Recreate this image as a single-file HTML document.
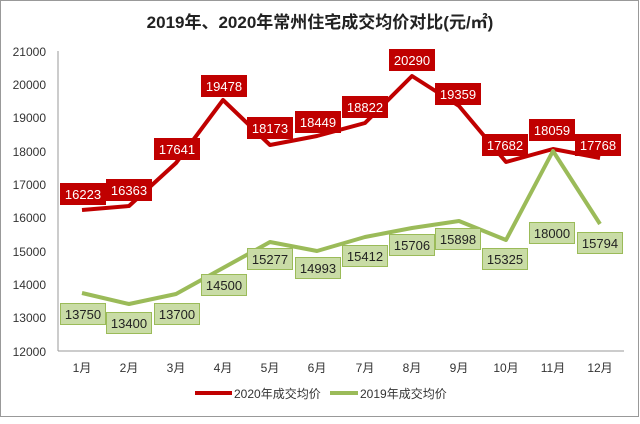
<!DOCTYPE html>
<html><head><meta charset="utf-8"><style>
body{margin:0;background:#fff;}
svg text{font-family:"Liberation Sans","Noto Sans CJK SC",sans-serif;}
</style></head><body>
<svg width="640" height="419" xmlns="http://www.w3.org/2000/svg">
<rect x="0.5" y="0.5" width="638" height="416" fill="#fff" stroke="#999"/>
<text x="320" y="28" text-anchor="middle" font-size="17" font-weight="bold" fill="#222">2019年、2020年常州住宅成交均价对比(元/㎡)</text>
<g font-size="12" fill="#333" text-anchor="end">
<text x="46" y="56">21000</text><text x="46" y="89">20000</text><text x="46" y="122">19000</text><text x="46" y="156">18000</text><text x="46" y="189">17000</text><text x="46" y="222">16000</text><text x="46" y="256">15000</text><text x="46" y="289">14000</text><text x="46" y="322">13000</text><text x="46" y="356">12000</text>
</g>
<line x1="58" y1="51" x2="58" y2="351" stroke="#999"/>
<line x1="58" y1="351" x2="624" y2="351" stroke="#999"/>
<g font-size="12" fill="#333" text-anchor="middle">
<text x="82" y="372">1月</text><text x="129" y="372">2月</text><text x="176" y="372">3月</text><text x="223" y="372">4月</text><text x="270" y="372">5月</text><text x="317" y="372">6月</text><text x="365" y="372">7月</text><text x="412" y="372">8月</text><text x="459" y="372">9月</text><text x="506" y="372">10月</text><text x="553" y="372">11月</text><text x="600" y="372">12月</text>
</g>
<polyline fill="none" stroke="#c00000" stroke-width="4" stroke-linejoin="round" points="82,210 129,206 176,163 223,100 270,145 317,136 365,123 412,76 459,106 506,162 553,149 600,158"/>
<polyline fill="none" stroke="#9bbb59" stroke-width="4" stroke-linejoin="round" points="82,293 129,304 176,294 223,268 270,242 317,251 365,237 412,228 459,221 506,240 553,151 600,224"/>
<g font-size="13" fill="#fff" text-anchor="middle">
<g fill="#c00000"><rect x="60" y="183" width="46" height="22"/><rect x="106" y="179" width="46" height="22"/><rect x="154" y="138" width="46" height="22"/><rect x="201" y="75" width="46" height="22"/><rect x="247" y="117" width="46" height="22"/><rect x="295" y="111" width="46" height="22"/><rect x="342" y="96" width="46" height="22"/><rect x="389" y="49" width="46" height="22"/><rect x="435" y="83" width="46" height="22"/><rect x="482" y="134" width="46" height="22"/><rect x="529" y="119" width="46" height="22"/><rect x="575" y="134" width="46" height="22"/></g>
<text x="83" y="199">16223</text><text x="129" y="195">16363</text><text x="177" y="154">17641</text><text x="224" y="91">19478</text><text x="270" y="133">18173</text><text x="318" y="127">18449</text><text x="365" y="112">18822</text><text x="412" y="65">20290</text><text x="458" y="99">19359</text><text x="505" y="150">17682</text><text x="552" y="135">18059</text><text x="598" y="150">17768</text>
</g>
<g font-size="13" fill="#222" text-anchor="middle">
<g fill="#c9dca6" stroke="#9bbb59"><rect x="60.5" y="303.5" width="45" height="21"/><rect x="106.5" y="312.5" width="45" height="21"/><rect x="154.5" y="303.5" width="45" height="21"/><rect x="201.5" y="274.5" width="45" height="21"/><rect x="247.5" y="248.5" width="45" height="21"/><rect x="295.5" y="257.5" width="45" height="21"/><rect x="342.5" y="245.5" width="45" height="21"/><rect x="389.5" y="234.5" width="45" height="21"/><rect x="435.5" y="228.5" width="45" height="21"/><rect x="482.5" y="248.5" width="45" height="21"/><rect x="529.5" y="222.5" width="45" height="21"/><rect x="577.5" y="232.5" width="45" height="21"/></g>
<text x="83" y="319">13750</text><text x="129" y="328">13400</text><text x="177" y="319">13700</text><text x="224" y="290">14500</text><text x="270" y="264">15277</text><text x="318" y="273">14993</text><text x="365" y="261">15412</text><text x="412" y="250">15706</text><text x="458" y="244">15898</text><text x="505" y="264">15325</text><text x="552" y="238">18000</text><text x="600" y="248">15794</text>
</g>
<line x1="195" y1="393" x2="232" y2="393" stroke="#c00000" stroke-width="4"/>
<text x="234" y="398" font-size="12" fill="#333">2020年成交均价</text>
<line x1="330" y1="393" x2="358" y2="393" stroke="#9bbb59" stroke-width="4"/>
<text x="360" y="398" font-size="12" fill="#333">2019年成交均价</text>
</svg>
</body></html>
